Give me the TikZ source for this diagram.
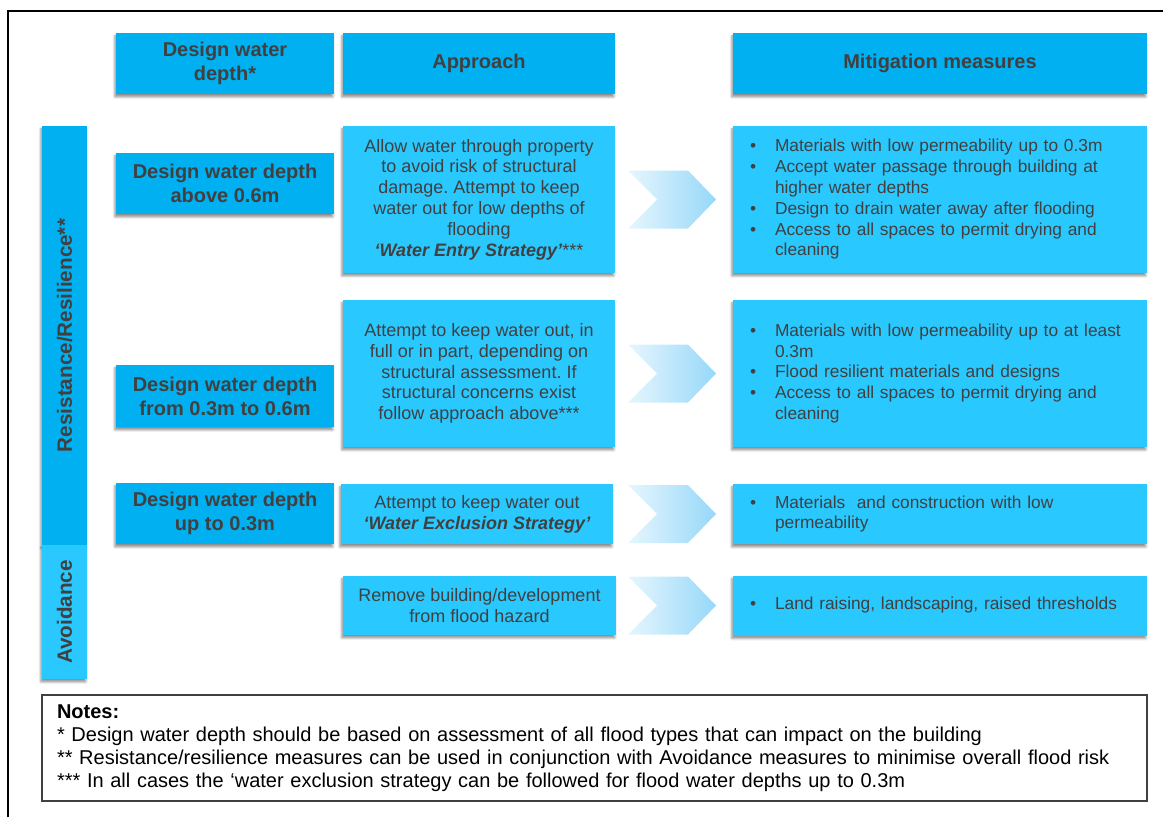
\documentclass[tikz,border=0pt]{standalone}
\usepackage{fontspec}
\setmainfont{Liberation Sans}
\usetikzlibrary{shadows.blur}

\definecolor{dkblue}{RGB}{0,176,240}
\definecolor{ltblue}{RGB}{41,200,255}
\definecolor{txtgray}{RGB}{64,64,64}
\definecolor{chevA}{RGB}{230,246,254}
\definecolor{chevB}{RGB}{150,216,248}

\newdimen\pxu \pxu=0.75pt
\newcommand{\bitem}[1]{\mbox{\makebox[25\pxu][l]{\textbullet}#1}}
\newcommand{\bcont}[1]{\mbox{\hspace*{25\pxu}#1}}
\frenchspacing

\tikzset{
  sz/.style 2 args={minimum width=#1\pxu, minimum height=#2\pxu},
  box/.style={inner sep=0pt, text=txtgray, align=center,
    blur shadow={shadow xshift=-0.9pt, shadow yshift=-2.2pt, shadow blur radius=1.8pt, shadow opacity=45}},
  hdbox/.style={box, fill=dkblue, font=\fontsize{15}{18}\selectfont\bfseries},
  apbox/.style={box, fill=ltblue, font=\fontsize{13.5}{15.6}\selectfont},
  mitbox/.style={box, fill=ltblue, font=\fontsize{13}{15.6}\selectfont, align=left,
    text width=380\pxu, inner xsep=17\pxu},
  bartxt/.style={text=txtgray, font=\fontsize{15.5}{18}\selectfont\bfseries},
  chev/.style={left color=chevA, right color=chevB, draw=none},
  notebox/.style={draw=black!75, line width=0.8pt, fill=white, align=left, inner ysep=0pt,
    inner xsep=15\pxu, text width=1075\pxu, font=\fontsize{15}{17.4}\selectfont},
}

\begin{document}
\begin{tikzpicture}[x=0.75pt,y=0.75pt,yscale=-1,xscale=1]
\useasboundingbox (0,0) rectangle (1163,817);

%Straight Lines: outer frame
\draw [line width=1.1pt] (8,817) -- (8,11) -- (1163,11);

%Shape: column headers
\node [hdbox, sz={218}{61}] (hdepth) at (225,63.5) {Design water\\depth*};
\node [hdbox, sz={272}{61}] (happr) at (479,63.5) {Approach};
\node [hdbox, sz={414}{61}] (hmit) at (940,63.5) {Mitigation measures};

%Shape: side bar
\node [box, fill=dkblue, sz={45}{419}] (rr) at (64.5,335.5) {};
\node [box, fill=ltblue, sz={45}{134}] (av) at (64.5,612) {};
\node [bartxt, rotate=90] (rrtxt) at (rr) {Resistance/Resilience**};
\node [bartxt, rotate=90] (avtxt) at (av) {Avoidance};

%Shape: design depth
\node [hdbox, sz={218}{61}] (d1) at (225,183.5) {Design water depth\\above 0.6m};
\node [hdbox, sz={218}{62}] (d2) at (225,396) {Design water depth\\from 0.3m to 0.6m};
\node [hdbox, sz={218}{61}] (d3) at (225,513.5) {Design water depth\\up to 0.3m};

%Shape: approach
\node [apbox, sz={272}{147}] (ap1) at (479,199.5) {Allow water through property\\to avoid risk of structural\\damage. Attempt to keep\\water out for low depths of\\flooding\\\textbf{\textit{‘Water Entry Strategy’}}***};
\node [apbox, sz={272}{147}] (ap2) at (479,373.5) {Attempt to keep water out, in\\full or in part, depending on\\structural assessment. If\\structural concerns exist\\follow approach above***};
\node [apbox, sz={272}{60}] (ap3) at (477,514) {Attempt to keep water out\\\textbf{\textit{‘Water Exclusion Strategy’}}};
\node [apbox, sz={273}{59}] (ap4) at (479.5,605.5) {Remove building/development\\from flood hazard};

%Shape: mitigation
\node [mitbox, sz={414}{147}] (mt1) at (940,199.5) {\bitem{Materials with low permeability up to 0.3m}\\\bitem{Accept water passage through building at}\\\bcont{higher water depths}\\\bitem{Design to drain water away after flooding}\\\bitem{Access to all spaces to permit drying and}\\\bcont{cleaning}};
\node [mitbox, sz={414}{147}] (mt2) at (940,373.5) {\bitem{Materials with low permeability up to at least}\\\bcont{0.3m}\\\bitem{Flood resilient materials and designs}\\\bitem{Access to all spaces to permit drying and}\\\bcont{cleaning}};
\node [mitbox, sz={414}{60}] (mt3) at (940,514) {\bitem{Materials\ \ and construction with low}\\\bcont{permeability}};
\node [mitbox, sz={414}{60}] (mt4) at (940,605.5) {\bitem{Land raising, landscaping, raised thresholds}};

%Shape: chevrons
\coordinate (chx) at (628,0);
\foreach \r in {1,...,4}
  \shade [chev] (chx |- ap\r.east) ++(0,-29) -- ++(60,0) -- ++(28,29) -- ++(-28,29) -- ++(-60,0) -- ++(29,-29) -- cycle;

% Text Node: notes
\node [notebox, sz={1105}{106}] (notes) at (594.5,748) {\textbf{Notes:}\\{}* Design water depth should be based on assessment of all flood types that can impact on the building\\{}** Resistance/resilience measures can be used in conjunction with Avoidance measures to minimise overall flood risk\\{}*** In all cases the ‘water exclusion strategy can be followed for flood water depths up to 0.3m};

\end{tikzpicture}
\end{document}
